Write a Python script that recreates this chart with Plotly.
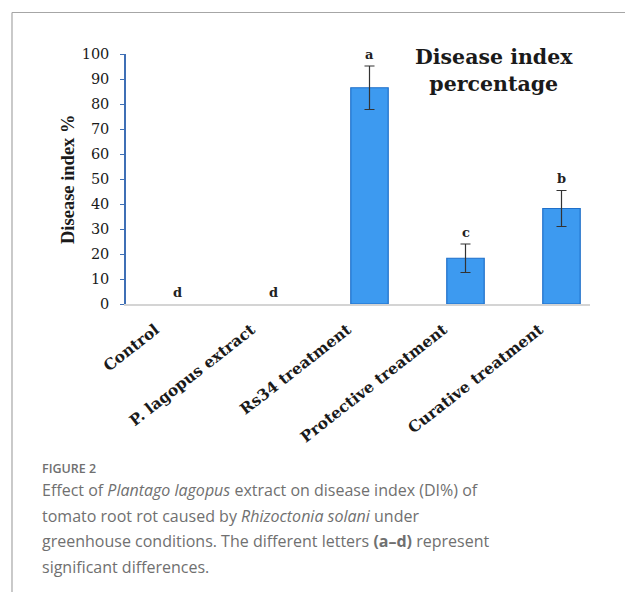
import plotly.graph_objects as go

# ---- data ----
treatments = ["Control", "P. lagopus extract", "Rs34 treatment",
              "Protective treatment", "Curative treatment"]
disease_index = [0, 0, 86.5, 18.3, 38.2]
std_error = [0, 0, 8.7, 5.7, 7.2]
letters = ["d", "d", "a", "c", "b"]
y_ticks = [0, 10, 20, 30, 40, 50, 60, 70, 80, 90, 100]

# ---- page geometry (pixels) ----
W, H = 625, 592
PLOT_L, PLOT_R = 126, 590
PLOT_T, PLOT_B = 54, 304


def px_x(px):
    return (px - PLOT_L) / (PLOT_R - PLOT_L)


def px_y(py):
    return (PLOT_B - py) / (PLOT_B - PLOT_T)


# a zero index leaves no bar and no whisker
bar_vals = [v if v > 0 else None for v in disease_index]
err_vals = [e if e > 0 else None for e in std_error]

fig = go.Figure()
fig.add_trace(go.Bar(
    x=treatments,
    y=bar_vals,
    width=0.39,
    marker=dict(color="#3d9af0", line=dict(color="#1f6fc9", width=1.2)),
    error_y=dict(type="data", array=err_vals, visible=True,
                 color="#333333", thickness=1.2, width=5),
    showlegend=False,
    hoverinfo="x+y",
))

# significance letters above each bar
for cat, val, err, let in zip(treatments, disease_index, std_error, letters):
    fig.add_annotation(
        x=cat, y=val + err, xref="x", yref="y",
        text=let, showarrow=False, yanchor="middle", yshift=12,
        font=dict(family="DejaVu Serif", size=13, color="#222222", weight="bold"),
    )

serif = "DejaVu Serif"

# chart title
fig.add_annotation(
    x=px_x(494), y=px_y(71), xref="paper", yref="paper",
    text="Disease index<br>percentage", showarrow=False,
    xanchor="center", yanchor="middle", align="center",
    font=dict(family=serif, size=20.5, color="#1a1a1a", weight="bold"),
)

# y axis title
fig.add_annotation(
    x=px_x(68), y=px_y(179), xref="paper", yref="paper",
    text="Disease index %", showarrow=False, textangle=-90,
    xanchor="center", yanchor="middle",
    font=dict(family="Liberation Serif", size=18.5, color="#1a1a1a", weight="bold"),
)

# figure frame (top and left rules)
frame_col = "#a6a6a6"
fig.add_shape(type="line", xref="paper", yref="paper",
              x0=px_x(12), x1=px_x(W + 5), y0=px_y(12.5), y1=px_y(12.5),
              line=dict(color=frame_col, width=1.2))
fig.add_shape(type="line", xref="paper", yref="paper",
              x0=px_x(12), x1=px_x(12), y0=px_y(12.5), y1=px_y(H + 5),
              line=dict(color=frame_col, width=1.2))

# caption
cap_font = dict(family="Open Sans", size=16, color="#707070")
fig.add_annotation(
    x=px_x(40), y=px_y(468), xref="paper", yref="paper",
    text="FIGURE 2", showarrow=False, xanchor="left", yanchor="middle",
    font=dict(family="Open Sans", size=12.5, color="#707070", weight=600),
)
caption_lines = [
    "Effect of <i>Plantago lagopus</i> extract on disease index (DI%) of",
    "tomato root rot caused by <i>Rhizoctonia solani</i> under",
    "greenhouse conditions. The different letters <b>(a\u2013d)</b> represent",
    "significant differences.",
]
for i, line in enumerate(caption_lines):
    fig.add_annotation(
        x=px_x(40), y=px_y(490 + 25.5 * i), xref="paper", yref="paper",
        text=line, showarrow=False, xanchor="left", yanchor="middle",
        font=cap_font,
    )

slot = 96.0
first_center = 177.5
fig.update_layout(
    width=W, height=H, autosize=False,
    margin=dict(l=PLOT_L, r=W - PLOT_R, t=PLOT_T, b=H - PLOT_B, pad=0),
    paper_bgcolor="white", plot_bgcolor="white",
    xaxis=dict(
        type="category",
        range=[(PLOT_L - first_center) / slot, (PLOT_R - first_center) / slot],
        showline=True, linecolor="#d4d4d4", linewidth=1.5,
        ticks="", showgrid=False, zeroline=False,
        tickangle=-38, ticklabelstandoff=9, ticklabelshift=-22,
        tickfont=dict(family=serif, size=15.5, color="#1a1a1a", weight="bold"),
    ),
    yaxis=dict(
        range=[0, 100], tickvals=y_ticks,
        showline=True, linecolor="#3f6fb5", linewidth=1.5,
        ticks="outside", ticklen=4, tickcolor="#3f6fb5", tickwidth=1.2,
        ticklabelstandoff=8,
        showgrid=False, zeroline=False,
        tickfont=dict(family=serif, size=14.5, color="#1a1a1a"),
    ),
)

fig.write_html("out.html")
